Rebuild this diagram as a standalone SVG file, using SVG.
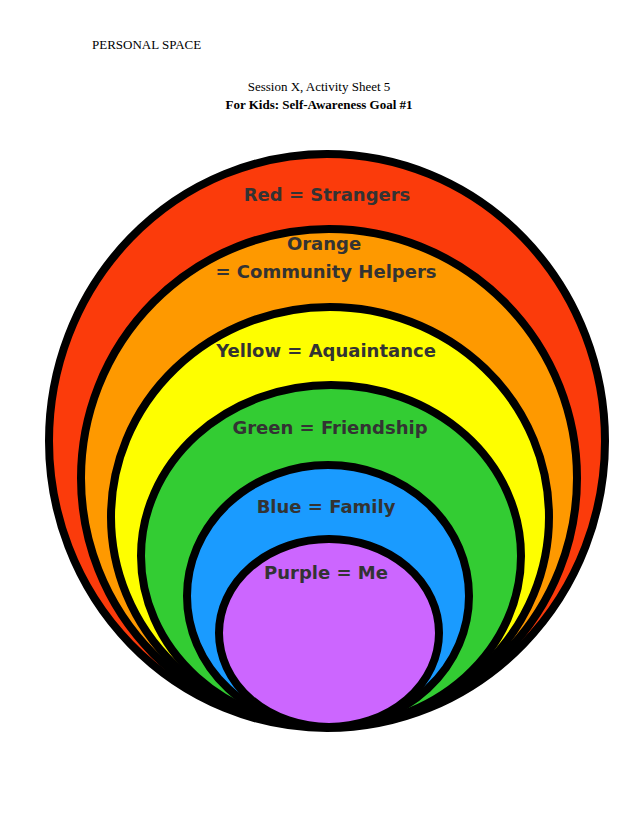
<svg xmlns="http://www.w3.org/2000/svg" width="638" height="826" viewBox="0 0 638 826">
<style>
.r{stroke:#000;stroke-width:8}
.l{font-family:"DejaVu Sans",sans-serif;font-weight:bold;font-size:18px;fill:#333;text-anchor:middle}
.h{font-family:"Liberation Serif",serif;font-size:13px;fill:#000}
</style>
<rect width="638" height="826" fill="#fff"/>
<text class="h" x="92" y="49" font-size="12">PERSONAL SPACE</text>
<text class="h" x="319" y="91" text-anchor="middle" font-size="14">Session X, Activity Sheet 5</text>
<text class="h" x="319" y="109" text-anchor="middle" font-size="14" font-weight="bold">For Kids: Self-Awareness Goal #1</text>
<g id="red"><ellipse class="r" cx="327" cy="441" rx="278" ry="287" fill="#fb3b0b"/><text class="l" x="327" y="201">Red = Strangers</text></g>
<g id="orange"><ellipse class="r" cx="329" cy="478" rx="248" ry="249" fill="#fe9900"/><text class="l" x="324" y="250">Orange</text><text class="l" x="326" y="278">= Community Helpers</text></g>
<g id="yellow"><ellipse class="r" cx="330" cy="517" rx="219" ry="210" fill="#fefe00"/><text class="l" x="326" y="357">Yellow = Aquaintance</text></g>
<g id="green"><ellipse class="r" cx="331" cy="556" rx="190" ry="171" fill="#33cc33"/><text class="l" x="330" y="434">Green = Friendship</text></g>
<g id="blue"><ellipse class="r" cx="328" cy="596" rx="141" ry="131" fill="#1a9bff"/><text class="l" x="326" y="513">Blue = Family</text></g>
<g id="purple"><ellipse class="r" cx="329" cy="633" rx="110" ry="94" fill="#cc66ff"/><text class="l" x="326" y="579">Purple = Me</text></g>
</svg>
